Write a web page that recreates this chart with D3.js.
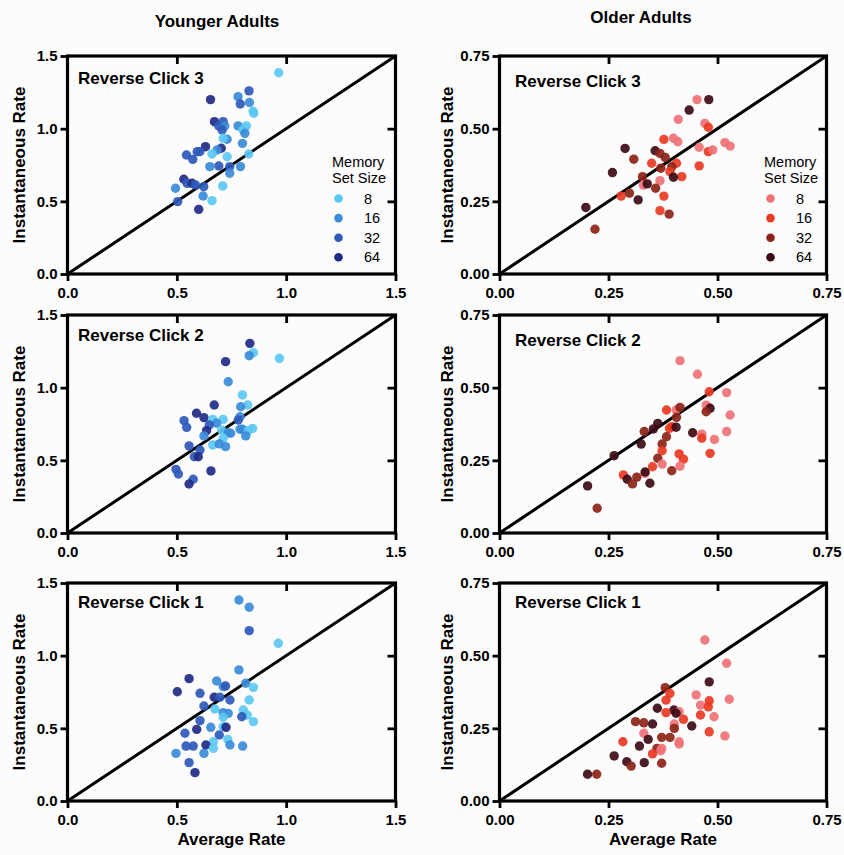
<!DOCTYPE html>
<html>
<head>
<meta charset="utf-8">
<script src="https://cdn.jsdelivr.net/npm/d3@7"></script>
<style>
  body { margin: 0; background: #fdfcfd; }
  svg { font-family: "Liberation Sans", Arial, sans-serif; }
</style>
</head>
<body>
<div id="chart"></div>
<script>
// memory set sizes and colours
const setSizes = [8, 16, 32, 64];
const youngColors = ["#5bc8f3", "#3a8bd8", "#2f59b9", "#1f2b87"];
const oldColors = ["#ef7276", "#e83a23", "#8c2417", "#3d0b15"];

const youngTicks = [0, 0.5, 1.0, 1.5];
const oldTicks = [0, 0.25, 0.5, 0.75];

// [average rate, instantaneous rate, memory set size]
const youngClick3 = [
  [0.966,1.385,8],[0.83,1.26,32],[0.654,1.20,64],[0.78,1.22,16],[0.832,1.18,16],[0.79,1.17,32],
  [0.849,1.12,8],[0.852,1.106,8],[0.672,1.048,64],[0.712,1.048,32],[0.692,1.019,32],[0.719,1.019,16],
  [0.707,0.991,32],[0.78,1.019,16],[0.818,1.019,8],[0.803,0.991,8],[0.811,0.968,16],[0.73,0.927,16],
  [0.712,0.934,8],[0.80,0.899,16],[0.631,0.876,64],[0.703,0.865,64],[0.684,0.853,16],[0.593,0.842,32],
  [0.605,0.842,32],[0.544,0.819,32],[0.573,0.789,32],[0.661,0.826,8],[0.73,0.807,8],[0.829,0.826,8],
  [0.692,0.743,32],[0.651,0.739,16],[0.742,0.739,32],[0.791,0.739,16],[0.742,0.693,16],[0.532,0.652,64],
  [0.547,0.624,32],[0.57,0.624,64],[0.585,0.613,32],[0.623,0.601,32],[0.494,0.59,16],[0.71,0.606,8],
  [0.62,0.537,16],[0.661,0.505,8],[0.504,0.498,32],[0.60,0.445,64]
];
const youngClick2 = [
  [0.834,1.305,64],[0.85,1.241,8],[0.831,1.22,16],[0.969,1.202,8],[0.723,1.179,64],[0.735,1.041,16],
  [0.80,0.95,8],[0.824,0.881,8],[0.792,0.869,16],[0.671,0.881,64],[0.59,0.824,64],[0.624,0.794,64],
  [0.533,0.773,32],[0.545,0.727,32],[0.664,0.782,8],[0.712,0.782,8],[0.682,0.755,16],[0.648,0.743,32],
  [0.789,0.80,16],[0.781,0.778,32],[0.636,0.704,64],[0.624,0.668,16],[0.705,0.709,8],[0.735,0.69,16],
  [0.746,0.686,16],[0.789,0.714,16],[0.80,0.714,16],[0.847,0.72,8],[0.827,0.704,8],[0.815,0.668,16],
  [0.712,0.652,8],[0.664,0.606,8],[0.694,0.613,16],[0.723,0.594,16],[0.556,0.599,32],[0.606,0.571,32],
  [0.58,0.525,32],[0.598,0.525,64],[0.496,0.438,32],[0.507,0.406,32],[0.656,0.427,64],[0.575,0.37,32],
  [0.556,0.337,64]
];
const youngClick1 = [
  [0.784,1.383,16],[0.831,1.333,16],[0.831,1.172,32],[0.964,1.085,8],[0.784,0.902,16],[0.556,0.842,64],
  [0.502,0.752,64],[0.682,0.826,16],[0.712,0.787,16],[0.723,0.791,32],[0.815,0.81,16],[0.85,0.782,8],
  [0.606,0.741,32],[0.671,0.714,64],[0.697,0.714,32],[0.743,0.695,32],[0.624,0.654,32],[0.674,0.633,8],
  [0.712,0.608,16],[0.735,0.603,16],[0.831,0.695,8],[0.804,0.626,8],[0.822,0.592,8],[0.797,0.58,32],
  [0.85,0.546,8],[0.712,0.576,8],[0.606,0.553,32],[0.655,0.507,16],[0.712,0.511,8],[0.725,0.507,64],
  [0.591,0.493,64],[0.537,0.466,32],[0.694,0.454,32],[0.733,0.424,8],[0.667,0.408,8],[0.633,0.385,64],
  [0.542,0.378,32],[0.575,0.378,32],[0.667,0.362,8],[0.743,0.385,16],[0.801,0.378,16],[0.624,0.328,16],
  [0.496,0.328,16],[0.556,0.264,32],[0.583,0.195,64]
];
const oldClick3 = [
  [0.453,0.60,8],[0.48,0.60,64],[0.435,0.564,64],[0.41,0.532,8],[0.377,0.463,16],[0.399,0.467,8],
  [0.409,0.455,8],[0.288,0.432,64],[0.357,0.424,64],[0.368,0.415,32],[0.38,0.401,32],[0.308,0.395,32],
  [0.349,0.381,16],[0.406,0.381,16],[0.395,0.369,32],[0.37,0.364,32],[0.391,0.352,16],[0.259,0.349,64],
  [0.418,0.335,16],[0.399,0.333,64],[0.328,0.335,32],[0.368,0.321,8],[0.33,0.306,8],[0.339,0.31,64],
  [0.358,0.295,32],[0.279,0.268,16],[0.298,0.278,32],[0.377,0.268,16],[0.318,0.255,64],[0.198,0.229,64],
  [0.368,0.218,16],[0.389,0.206,32],[0.219,0.154,32],[0.471,0.518,8],[0.479,0.505,16],[0.458,0.436,8],
  [0.479,0.421,16],[0.489,0.427,8],[0.517,0.452,8],[0.529,0.44,8],[0.458,0.372,16]
];
const oldClick2 = [
  [0.414,0.593,8],[0.454,0.546,8],[0.481,0.486,16],[0.521,0.483,8],[0.474,0.44,8],[0.483,0.429,64],
  [0.474,0.417,32],[0.529,0.406,8],[0.383,0.423,16],[0.405,0.423,8],[0.414,0.432,32],[0.406,0.398,32],
  [0.363,0.377,64],[0.353,0.358,64],[0.395,0.366,16],[0.39,0.36,16],[0.405,0.364,64],[0.332,0.349,32],
  [0.383,0.331,32],[0.443,0.345,64],[0.464,0.34,8],[0.464,0.326,16],[0.493,0.322,8],[0.521,0.349,8],
  [0.325,0.306,64],[0.373,0.306,32],[0.373,0.283,16],[0.412,0.272,16],[0.422,0.254,16],[0.483,0.274,16],
  [0.363,0.257,32],[0.373,0.237,8],[0.414,0.23,8],[0.351,0.228,16],[0.263,0.266,64],[0.395,0.214,32],
  [0.284,0.20,16],[0.334,0.205,8],[0.334,0.21,64],[0.315,0.192,32],[0.293,0.185,64],[0.305,0.169,32],
  [0.345,0.171,64],[0.202,0.162,64],[0.224,0.085,32]
];
const oldClick1 = [
  [0.471,0.554,8],[0.521,0.474,8],[0.481,0.41,64],[0.38,0.39,32],[0.391,0.37,16],[0.382,0.347,16],
  [0.451,0.365,8],[0.481,0.345,16],[0.461,0.33,8],[0.479,0.324,16],[0.527,0.35,8],[0.362,0.319,64],
  [0.40,0.313,64],[0.382,0.304,16],[0.412,0.307,8],[0.405,0.302,64],[0.461,0.296,16],[0.492,0.29,8],
  [0.422,0.281,16],[0.441,0.258,64],[0.312,0.273,32],[0.331,0.269,32],[0.351,0.265,64],[0.401,0.265,8],
  [0.401,0.25,32],[0.331,0.233,8],[0.481,0.238,16],[0.517,0.224,8],[0.283,0.204,16],[0.341,0.212,64],
  [0.372,0.219,32],[0.391,0.219,32],[0.412,0.204,8],[0.412,0.196,8],[0.321,0.189,64],[0.361,0.181,32],
  [0.372,0.181,8],[0.37,0.173,8],[0.351,0.162,16],[0.263,0.155,64],[0.292,0.135,64],[0.302,0.12,32],
  [0.332,0.132,64],[0.372,0.13,32],[0.202,0.092,64],[0.223,0.092,32]
];

const W = 844, H = 855;
const svg = d3.select("#chart").append("svg").attr("width", W).attr("height", H);

const cols = [
  { x0: 67.5, x1: 395.5, max: 1.5, ticks: youngTicks, fmt: d3.format(".1f"), colors: youngColors,
    yTitleX: 25, labelDx: 10.5 },
  { x0: 499.5, x1: 826.5, max: 0.75, ticks: oldTicks, fmt: d3.format(".2f"), colors: oldColors,
    yTitleX: 453, labelDx: 15.5 }
];
const rows = [
  { y0: 56, y1: 274, name: "Reverse Click 3", data: [youngClick3, oldClick3], labelDy: [28, 30.5] },
  { y0: 315, y1: 533, name: "Reverse Click 2", data: [youngClick2, oldClick2], labelDy: [25.5, 31] },
  { y0: 583, y1: 801, name: "Reverse Click 1", data: [youngClick1, oldClick1], labelDy: [25, 25] }
];

function styleAxis(g) {
  g.select(".domain").remove();
  g.selectAll(".tick line").attr("stroke", "#000").attr("stroke-width", 2.8);
  g.selectAll(".tick text").attr("fill", "#000").style("font-size", "15px").style("font-weight", "bold");
}

rows.forEach((row, ri) => {
  cols.forEach((col, ci) => {
    const x = d3.scaleLinear().domain([0, col.max]).range([col.x0, col.x1]);
    const y = d3.scaleLinear().domain([0, col.max]).range([row.y1, row.y0]);
    const g = svg.append("g");

    g.append("g").attr("transform", `translate(0,${row.y1})`)
      .call(d3.axisBottom(x).tickValues(col.ticks).tickFormat(col.fmt).tickSize(7).tickSizeOuter(0).tickPadding(6))
      .call(styleAxis);
    g.append("g").attr("transform", `translate(${col.x0},0)`)
      .call(d3.axisLeft(y).tickValues(col.ticks).tickFormat(col.fmt).tickSize(7).tickSizeOuter(0).tickPadding(3))
      .call(styleAxis);
    g.append("g").attr("transform", `translate(0,${row.y0})`)
      .call(d3.axisTop(x).tickValues(col.ticks.slice(1, -1)).tickFormat("").tickSize(-8).tickSizeOuter(0))
      .call(styleAxis);
    g.append("g").attr("transform", `translate(${col.x1},0)`)
      .call(d3.axisRight(y).tickValues(col.ticks.slice(1, -1)).tickFormat("").tickSize(-8).tickSizeOuter(0))
      .call(styleAxis);

    g.append("rect")
      .attr("x", col.x0).attr("y", row.y0)
      .attr("width", col.x1 - col.x0).attr("height", row.y1 - row.y0)
      .attr("fill", "none").attr("stroke", "#000").attr("stroke-width", 3.2);

    // identity line
    g.append("line")
      .attr("x1", x(0)).attr("y1", y(0)).attr("x2", x(col.max)).attr("y2", y(col.max))
      .attr("stroke", "#000").attr("stroke-width", 3);

    const color = d3.scaleOrdinal().domain(setSizes).range(col.colors);
    g.append("g").selectAll("circle")
      .data(row.data[ci])
      .join("circle")
      .attr("cx", d => x(d[0]))
      .attr("cy", d => y(d[1]))
      .attr("r", 4.7)
      .attr("fill", d => color(d[2]))
      .attr("fill-opacity", 0.92);

    g.append("text")
      .attr("x", col.x0 + col.labelDx).attr("y", row.y0 + row.labelDy[ci])
      .text(row.name)
      .style("font-size", "17px").style("font-weight", "bold");

    g.append("text")
      .attr("transform", `translate(${col.yTitleX},${(row.y0 + row.y1) / 2}) rotate(-90)`)
      .attr("text-anchor", "middle")
      .text("Instantaneous Rate")
      .style("font-size", "17px").style("font-weight", "bold");

    // legend only in the top row
    if (ri === 0) {
      const lx = ci === 0 ? 332 : 764;
      const lg = g.append("g");
      lg.append("text").attr("x", lx).attr("y", 166.5).text("Memory").style("font-size", "14.5px");
      lg.append("text").attr("x", lx).attr("y", 183).text("Set Size").style("font-size", "14.5px");
      setSizes.forEach((s, i) => {
        lg.append("circle").attr("cx", lx + 6.5).attr("cy", 198.5 + i * 19.6).attr("r", 4.3)
          .attr("fill", color(s));
        lg.append("text").attr("x", lx + 32).attr("y", 198.5 + i * 19.6).attr("dy", "0.35em")
          .text(s).style("font-size", "14.5px");
      });
    }
  });
});

// column titles and x-axis titles
svg.append("text").attr("x", 217).attr("y", 27).attr("text-anchor", "middle")
  .text("Younger Adults").style("font-size", "17px").style("font-weight", "bold");
svg.append("text").attr("x", 641).attr("y", 23).attr("text-anchor", "middle")
  .text("Older Adults").style("font-size", "17px").style("font-weight", "bold");
cols.forEach(col => {
  svg.append("text").attr("x", (col.x0 + col.x1) / 2).attr("y", 845).attr("text-anchor", "middle")
    .text("Average Rate").style("font-size", "17px").style("font-weight", "bold");
});
</script>
</body>
</html>
